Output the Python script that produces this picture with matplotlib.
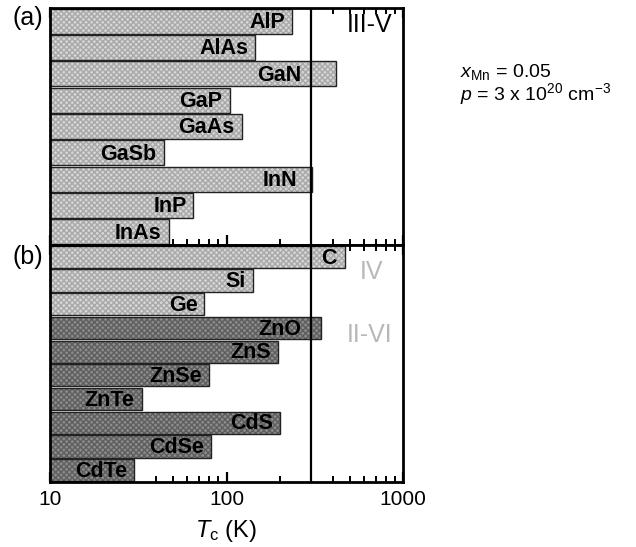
import matplotlib
matplotlib.use("Agg")
import matplotlib.pyplot as plt
from matplotlib.ticker import LogLocator, NullFormatter, FixedLocator, FixedFormatter

plt.rcParams['font.family'] = ['Liberation Sans', 'DejaVu Sans']
plt.rcParams['mathtext.fontset'] = 'custom'
plt.rcParams['mathtext.rm'] = 'Liberation Sans'
plt.rcParams['mathtext.it'] = 'Liberation Sans:italic'

# ---- data ----
iii_v_names = ["AlP", "AlAs", "GaN", "GaP", "GaAs", "GaSb", "InN", "InP", "InAs"]
iii_v_tc = [235, 145, 417, 104, 122, 44, 307, 65, 47]

iv_names = ["C", "Si", "Ge"]
iv_tc = [470, 141, 75]

ii_vi_names = ["ZnO", "ZnS", "ZnSe", "ZnTe", "CdS", "CdSe", "CdTe"]
ii_vi_tc = [343, 196, 80, 33, 201, 82, 30]

room_temperature = 300
x_ticks = [10, 100, 1000]
x_tick_labels = ["10", "100", "1000"]

LIGHT = "#d6d6d6"
LIGHT_H = "#a8a8a8"
DARK = "#8c8c8c"
DARK_H = "#5e5e5e"

fig = plt.figure(figsize=(6.36, 5.47), dpi=100)
L, R = 50 / 636, 403 / 636
top = 1 - 8 / 547
mid = 1 - 245 / 547
bot = 1 - 482 / 547
ax_a = fig.add_axes([L, mid, R - L, top - mid])
ax_b = fig.add_axes([L, bot, R - L, mid - bot], sharex=ax_a)


def draw_bars(ax, names, values, offset, face, hatchc):
    ys = list(range(offset, offset + len(names)))
    ax.barh(ys, values, left=0.001, height=0.94, color=face, edgecolor=hatchc,
            hatch='xxxxxx', linewidth=0, zorder=2)
    ax.barh(ys, values, left=0.001, height=0.94, facecolor='none',
            edgecolor='#222222', linewidth=1.0, zorder=3)
    for y, n, v in zip(ys, names, values):
        xe = min(v, 290) / 1.095
        if n == "C":
            xe = v / 1.12
        if n == "InN":
            xe = v / 1.22
        ax.text(xe, y + 0.05, n, ha='right', va='center', fontsize=15.5,
                fontweight='bold', color='black', zorder=4)


draw_bars(ax_a, iii_v_names, iii_v_tc, 0, LIGHT, LIGHT_H)
draw_bars(ax_b, iv_names, iv_tc, 0, LIGHT, LIGHT_H)
draw_bars(ax_b, ii_vi_names, ii_vi_tc, len(iv_names), DARK, DARK_H)

ax_a.set_ylim(len(iii_v_names) - 0.5, -0.5)
ax_b.set_ylim(len(iv_names) + len(ii_vi_names) - 0.5, -0.5)

for ax in (ax_a, ax_b):
    ax.set_xscale('log')
    ax.set_xlim(10, 1000)
    ax.axvline(room_temperature, color='black', linewidth=1.6, zorder=5)
    ax.set_yticks([])
    for s in ax.spines.values():
        s.set_linewidth(2.0)
        s.set_zorder(6)
    ax.xaxis.set_major_locator(FixedLocator(x_ticks))
    ax.xaxis.set_minor_locator(LogLocator(base=10, subs=range(2, 10)))
    ax.xaxis.set_minor_formatter(NullFormatter())
    ax.tick_params(axis='x', which='major', direction='in', top=True, bottom=True,
                   length=7, width=1.6)
    ax.tick_params(axis='x', which='minor', direction='in', top=True, bottom=True,
                   length=4, width=1.4)

ax_a.tick_params(axis='x', which='both', labelbottom=False)
ax_b.xaxis.set_major_formatter(FixedFormatter(x_tick_labels))
ax_b.tick_params(axis='x', which='major', labelsize=15, pad=6)
ax_b.set_xlabel(r"$T_{\mathrm{c}}$ (K)", fontsize=17, labelpad=6)

ax_a.text(0.97, 0.93, "III-V", transform=ax_a.transAxes, ha='right', va='center',
          fontsize=18, color='black')
ax_b.text(0.945, 0.885, "IV", transform=ax_b.transAxes, ha='right', va='center',
          fontsize=18, color='#b8b8b8')
ax_b.text(0.97, 0.62, "II-VI", transform=ax_b.transAxes, ha='right', va='center',
          fontsize=18, color='#b8b8b8')

fig.text(12 / 636, 1 - 18 / 547, "(a)", fontsize=18, ha='left', va='center')
fig.text(12 / 636, 1 - 257 / 547, "(b)", fontsize=18, ha='left', va='center')

fig.text(460 / 636, 1 - 72 / 547, r"$x_{\mathrm{Mn}}$ = 0.05", fontsize=14,
         ha='left', va='center')
fig.text(460 / 636, 1 - 94 / 547, r"$p$ = 3 x 10$^{20}$ cm$^{\mathrm{-3}}$", fontsize=14,
         ha='left', va='center')

fig.savefig("out.png", dpi=100)
